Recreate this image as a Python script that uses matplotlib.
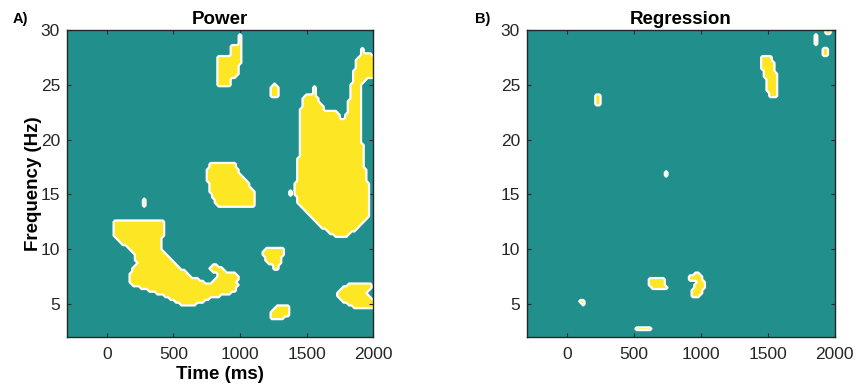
import numpy as np
import matplotlib.pyplot as plt
from matplotlib.path import Path
from matplotlib.colors import ListedColormap

plt.rcParams['font.family'] = ['Liberation Sans', 'DejaVu Sans']

# time / frequency grid of the cluster masks
times = np.arange(-300, 2001, 20)
freqs = np.arange(2, 30.01, 0.25)

# significant clusters, outlines (time ms, freq Hz)
power_blobs = [
    [(50, 12.3), (62, 12.6), (432, 12.65), (432, 11.5), (400, 10.45), (425, 9.7),
     (525, 8.5), (650, 7.4), (762, 6.9), (812, 7.1), (837, 7.6), (775, 8.2),
     (787, 8.5), (837, 8.5), (900, 7.9), (995, 7.7), (975, 7.1), (987, 6.7),
     (950, 6.06), (800, 5.6), (700, 5.15), (600, 4.75), (475, 5.5), (375, 6.0),
     (200, 6.7), (162, 7.27), (187, 8.03), (225, 8.8), (200, 9.7), (125, 10.45),
     (62, 11.06), (50, 11.8)],
    [(775, 17.75), (962, 17.8), (1000, 17.0), (1050, 16.2), (1100, 15.45),
     (1105, 13.9), (825, 13.9), (787, 14.85), (762, 15.76), (755, 17.3)],
    [(830, 27.6), (925, 27.6), (932, 28.5), (987, 28.6), (995, 29.7), (1005, 29.7),
     (1000, 26.8), (975, 25.75), (925, 25.45), (925, 24.8), (830, 24.8)],
    [(1237, 24.9), (1250, 24.9), (1255, 25.8), (1262, 24.9), (1300, 24.9),
     (1300, 23.9), (1237, 23.9)],
    [(1400, 15.9), (1432, 16.4), (1450, 20.6), (1462, 23.3), (1487, 24.1),
     (1550, 24.1), (1562, 24.9), (1570, 23.9), (1612, 23.3), (1637, 22.6),
     (1737, 22.6), (1750, 22.0), (1787, 21.8), (1812, 22.7), (1825, 24.2),
     (1850, 25.75), (1875, 27.4), (1912, 27.9), (1925, 28.7), (1937, 27.9),
     (2010, 27.7), (2010, 25.75), (1950, 25.6), (1912, 25.0), (1900, 23.6),
     (1912, 20.6), (1937, 17.6), (1975, 15.15), (1980, 13.6), (1950, 12.7),
     (1900, 12.1), (1825, 11.4), (1775, 11.0), (1725, 11.0), (1675, 11.5),
     (1575, 12.4), (1500, 13.3), (1437, 14.24), (1407, 15.3)],
    [(1362, 15.45), (1387, 15.45), (1387, 14.85), (1362, 14.85)],
    [(270, 14.5), (295, 14.5), (295, 13.9), (270, 13.9)],
    [(1182, 10.06), (1332, 10.06), (1312, 9.1), (1287, 8.2), (1262, 8.2),
     (1237, 8.6), (1187, 8.9), (1175, 9.5)],
    [(1225, 3.8), (1250, 4.7), (1312, 5.0), (1370, 4.7), (1362, 3.94),
     (1300, 3.5), (1237, 3.5)],
    [(1725, 5.9), (1787, 6.67), (1837, 6.97), (1950, 6.97), (2010, 6.67),
     (1950, 6.06), (2010, 5.3), (2010, 4.55), (1900, 4.55), (1825, 4.85),
     (1750, 5.45)],
]

regression_blobs = [
    [(215, 24.0), (260, 24.0), (260, 23.1), (215, 23.1)],
    [(735, 17.1), (755, 17.1), (755, 16.6), (735, 16.6)],
    [(1455, 27.7), (1537, 27.7), (1542, 26.67), (1572, 25.76), (1580, 23.9),
     (1505, 23.9), (1492, 25.45), (1462, 26.06), (1455, 27.0)],
    [(1848, 29.6), (1875, 29.6), (1875, 28.6), (1848, 28.6)],
    [(1910, 28.4), (1950, 28.4), (1950, 27.6), (1910, 27.6)],
    [(1930, 30.2), (1975, 30.2), (1975, 29.5), (1930, 29.5)],
    [(605, 7.42), (717, 7.42), (747, 6.36), (637, 6.36), (605, 6.97)],
    [(917, 7.6), (992, 7.9), (1037, 6.67), (992, 5.6), (930, 5.6),
     (942, 6.5), (967, 7.1), (917, 7.24)],
    [(97, 5.35), (137, 5.3), (137, 4.95), (100, 5.0)],
    [(505, 2.8), (632, 2.8), (632, 2.5), (505, 2.5)],
]

teal = '#21908c'
yellow = '#fde725'
cmap = ListedColormap([teal, yellow])


def make_mask(blobs):
    T, F = np.meshgrid(times, freqs)
    pts = np.column_stack([T.ravel(), F.ravel()])
    m = np.zeros(T.shape, dtype=float)
    for b in blobs:
        inside = Path(b).contains_points(pts).reshape(T.shape)
        m[inside] = 1
    return m


def draw(ax, blobs, title):
    m = make_mask(blobs)
    ax.pcolormesh(times, freqs, m, cmap=cmap, vmin=0, vmax=1, shading='nearest')
    ax.contour(times, freqs, m, levels=[0.5], colors='white', linewidths=1.6)
    ax.set_xlim(-300, 2000)
    ax.set_ylim(2, 30)
    ax.set_xticks([0, 500, 1000, 1500, 2000])
    ax.set_yticks([5, 10, 15, 20, 25, 30])
    ax.tick_params(direction='in', top=True, right=True, length=3,
                   labelsize=12.5, colors='#262626', width=0.8)
    ax.tick_params(axis='x', pad=7)
    ax.tick_params(axis='y', pad=5)
    for s in ax.spines.values():
        s.set_color('#262626')
        s.set_linewidth(1.0)
    ax.set_title(title, fontsize=13.5, fontweight='bold', pad=4)


fig = plt.figure(figsize=(8.56, 3.9), dpi=100)
ax1 = fig.add_axes([0.0783, 0.136, 0.3575, 0.787])
ax2 = fig.add_axes([0.6157, 0.136, 0.3594, 0.787])

draw(ax1, power_blobs, 'Power')
draw(ax2, regression_blobs, 'Regression')

ax1.set_xlabel('Time (ms)', fontsize=13.5, fontweight='bold', labelpad=3)
ax1.set_ylabel('Frequency (Hz)', fontsize=13.5, fontweight='bold')
ax1.yaxis.set_label_coords(-0.082, 0.5)

fig.text(0.015, 0.95, 'A)', fontsize=10.5, fontweight='bold', va='center')
fig.text(0.555, 0.95, 'B)', fontsize=10.5, fontweight='bold', va='center')

fig.savefig('out.png', dpi=100)
